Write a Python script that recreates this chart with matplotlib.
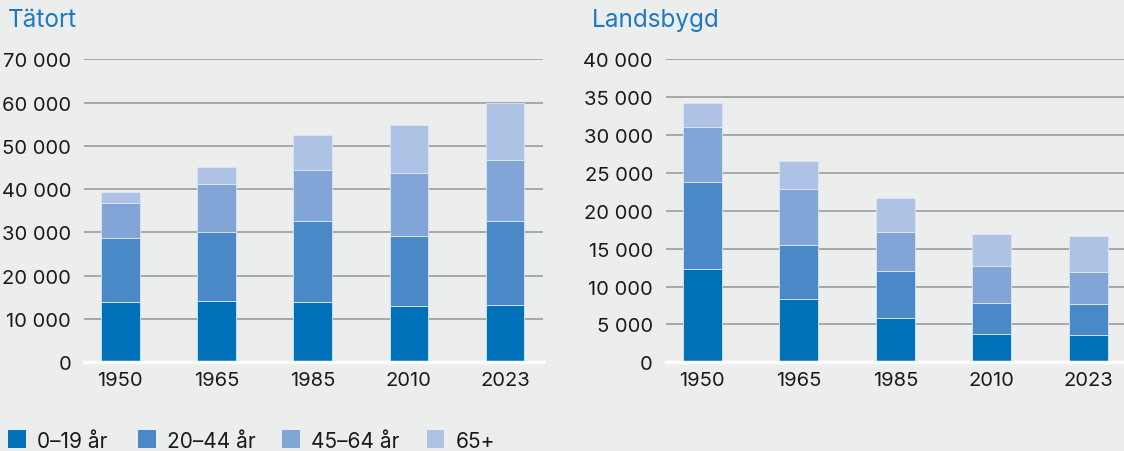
import matplotlib
matplotlib.use("Agg")
import matplotlib.pyplot as plt
from matplotlib.patches import Rectangle
import numpy as np

plt.rcParams['font.family'] = ['Inter', 'DejaVu Sans']

years = ["1950", "1965", "1985", "2010", "2023"]
groups = ["0–19 år", "20–44 år", "45–64 år", "65+"]

# Tätort
tatort_0_19 = [14000, 14200, 13900, 12900, 13300]
tatort_20_44 = [14700, 15900, 18700, 16300, 19300]
tatort_45_64 = [8100, 11100, 11800, 14500, 14100]
tatort_65 = [2500, 4000, 8200, 11200, 13200]

# Landsbygd
lands_0_19 = [12300, 8300, 5800, 3800, 3650]
lands_20_44 = [11550, 7250, 6300, 4050, 4100]
lands_45_64 = [7250, 7350, 5050, 4900, 4200]
lands_65 = [3100, 3700, 4600, 4150, 4700]

colors = ["#0070b8", "#4a89c8", "#80a5d6", "#adc2e4"]
bg = "#eceeed"
title_col = "#1f78c1"
text_col = "#1a1a1a"

fig = plt.figure(figsize=(11.24, 4.52), dpi=100, facecolor=bg)
W, H = 1124, 452

def make_ax(left, right, top, bottom):
    return fig.add_axes([left / W, 1 - bottom / H, (right - left) / W, (bottom - top) / H])

ax1 = make_ax(84.3, 543, 60.3, 363.3)
ax2 = make_ax(666, 1124, 60.3, 363.3)

def draw(ax, series, ymax, step, xlim):
    ax.set_facecolor(bg)
    x = np.arange(len(years))
    bottom = np.zeros(len(years))
    for vals, c in zip(series, colors):
        ax.bar(x, vals, width=0.4, bottom=bottom, color=c, edgecolor="#dde6f2",
               linewidth=0.6, zorder=3)
        bottom += np.array(vals)
    ax.set_ylim(0, ymax)
    ax.set_xlim(*xlim)
    ticks = np.arange(0, ymax + 1, step)
    ax.set_yticks(ticks)
    ax.set_yticklabels([f"{int(t):,}".replace(",", " ") for t in ticks])
    ax.set_xticks(x)
    ax.set_xticklabels(years)
    for t in ticks[1:]:
        ax.axhline(t, color="#9c9c9c", linewidth=1.2, zorder=1)
    ax.axhline(0, color="white", linewidth=2.5, zorder=4, clip_on=False)
    for s in ax.spines.values():
        s.set_visible(False)
    ax.tick_params(axis="both", length=0, labelsize=14.5, colors=text_col)
    ax.tick_params(axis="y", pad=9.4)
    ax.tick_params(axis="x", pad=6)

draw(ax1, [tatort_0_19, tatort_20_44, tatort_45_64, tatort_65], 70000, 10000, (-0.375, 4.395))
draw(ax2, [lands_0_19, lands_20_44, lands_45_64, lands_65], 40000, 5000, (-0.376, 4.37))

fig.text(8 / W, 1 - 26.7 / H, "Tätort", color=title_col, fontsize=17.5, va="baseline", ha="left")
fig.text(591.7 / W, 1 - 26.7 / H, "Landsbygd", color=title_col, fontsize=17.5, va="baseline", ha="left")

# Legend drawn manually
sq_x = [8.3, 138.3, 282.3, 426.7]
for sx, c, lab in zip(sq_x, colors, groups):
    fig.patches.append(Rectangle((sx / W, 1 - 449 / H), 17.5 / W, 18 / H,
                                 transform=fig.transFigure, facecolor=c, edgecolor="none"))
    fig.text((sx + 29) / W, 1 - 448.3 / H, lab, color=text_col, fontsize=15,
             va="baseline", ha="left")

fig.savefig("out.png", dpi=100, facecolor=bg)
